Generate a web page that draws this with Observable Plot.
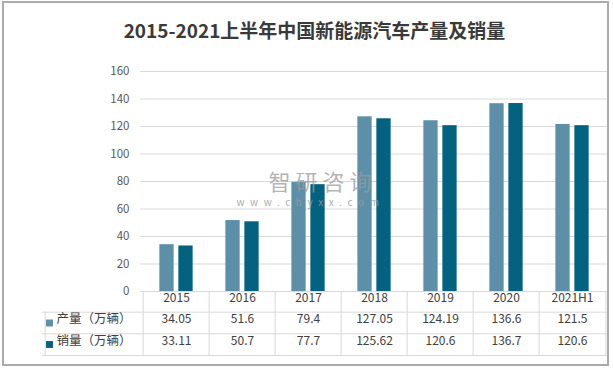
<!DOCTYPE html>
<html><head><meta charset="utf-8">
<script src="https://cdn.jsdelivr.net/npm/d3@7"></script>
<script src="https://cdn.jsdelivr.net/npm/@observablehq/plot@0.6"></script>
<style>
body{margin:0;background:#fff;}
#wrap{position:relative;width:613px;height:371px;overflow:hidden;font-family:"Noto Sans CJK SC","Noto Sans",sans-serif;background:#fff;}
#border{position:absolute;left:2px;top:1px;width:607px;height:365px;box-sizing:border-box;border:2px solid #ababab;pointer-events:none;}
#title{height:50px;box-sizing:border-box;padding-top:19px;line-height:22px;text-align:center;font-size:19px;font-weight:bold;color:#3a3a3a;padding-left:16px;}
#chart svg{display:block;}
</style></head>
<body>
<div id="wrap">
  <div id="title">2015-2021上半年中国新能源汽车产量及销量</div>
  <div id="chart"></div>
  <div id="border"></div>
</div>
<script>
const years = ["2015","2016","2017","2018","2019","2020","2021H1"];
const production = [34.05, 51.6, 79.4, 127.05, 124.19, 136.6, 121.5];
const sales = [33.11, 50.7, 77.7, 125.62, 120.6, 136.7, 120.6];
const seriesNames = ["产量（万辆）", "销量（万辆）"];
const seriesColors = ["#5d90a8", "#02627f"];
const yTicks = [0, 20, 40, 60, 80, 100, 120, 140, 160];
const watermark = ["智研咨询", "www.chyxx.com"];

const W = 613, H = 321, mL = 140, mR = 6, mT = 21, mB = 80;
const bw = (W - mL - mR) / years.length;
const frameH = H - mT - mB;
const barW = 15, gap = 4;
const in1 = bw / 2 - gap / 2 - barW;

const prodData = years.map((y, i) => ({year: y, value: production[i]}));
const salesData = years.map((y, i) => ({year: y, value: sales[i]}));
const rowDy = [31.5, 53];
const lineDy = [20.7, 42.3, 64];
const labelCol = 98;
const txt = "#404040";

const marks = [
  Plot.ruleY(yTicks.filter(v => v > 0), {stroke: "#d9d9d9", strokeWidth: 1}),
  Plot.barY(prodData, {x: "year", y: "value", fill: seriesColors[0], insetLeft: in1, insetRight: bw - in1 - barW}),
  Plot.barY(salesData, {x: "year", y: "value", fill: seriesColors[1], insetLeft: bw - in1 - barW, insetRight: in1}),
  Plot.text([watermark[0]], {frameAnchor: "top-left", dx: 128, dy: 103, textAnchor: "start", fontSize: 22, fill: "#9a9a9a", fillOpacity: 0.75}),
  Plot.text([watermark[1]], {frameAnchor: "top-left", dx: 96, dy: 127, textAnchor: "start", fontSize: 10, fill: "#9a9a9a", fillOpacity: 0.85}),
  Plot.ruleY([0], {stroke: "#d9d9d9"}),
  ...lineDy.map(d => Plot.ruleY([0], {stroke: "#d9d9d9", dy: d, insetLeft: -labelCol})),
  Plot.ruleX(years, {x: d => d, dx: -bw / 2, stroke: "#d9d9d9", insetTop: frameH, insetBottom: -lineDy[2]}),
  Plot.ruleX([years[years.length - 1]], {x: d => d, dx: bw / 2, stroke: "#d9d9d9", insetTop: frameH, insetBottom: -lineDy[2]}),
  Plot.ruleX([years[0]], {x: d => d, dx: -bw / 2 - labelCol, stroke: "#d9d9d9", insetTop: frameH + lineDy[0], insetBottom: -lineDy[2]}),
  Plot.text(years, {x: d => d, text: d => d, frameAnchor: "bottom", dy: 10.7, fill: txt, fontSize: 12}),
  Plot.text(prodData, {x: "year", text: d => String(d.value), frameAnchor: "bottom", dy: rowDy[0], fill: txt, fontSize: 12}),
  Plot.text(salesData, {x: "year", text: d => String(d.value), frameAnchor: "bottom", dy: rowDy[1], fill: txt, fontSize: 12}),
  ...seriesNames.map((n, i) => Plot.dot([n], {frameAnchor: "bottom-left", dx: -labelCol + 7, dy: rowDy[i], symbol: "square", r: 3.9, fill: seriesColors[i], stroke: null})),
  ...seriesNames.map((n, i) => Plot.text([n], {text: d => d, frameAnchor: "bottom-left", dx: -labelCol + 14, dy: rowDy[i], textAnchor: "start", fill: txt, fontSize: 12.5}))
];

const plot = Plot.plot({
  width: W, height: H,
  marginLeft: mL, marginRight: mR, marginTop: mT, marginBottom: mB,
  style: {fontFamily: '"Noto Sans CJK SC","Noto Sans",sans-serif', fontSize: "11.5px", color: "#595959", background: "transparent", overflow: "visible"},
  x: {domain: years, padding: 0, axis: null},
  y: {domain: [0, 160], ticks: yTicks, tickSize: 0, tickPadding: 11, label: null, line: false},
  marks
});
document.getElementById("chart").appendChild(plot);
const sel = d3.select(plot).selectAll("text");
sel.filter(function () { return this.textContent === watermark[1]; }).attr("letter-spacing", "5.6px");
sel.filter(function () { return this.textContent === watermark[0]; }).attr("letter-spacing", "5px");
</script>
</body></html>
